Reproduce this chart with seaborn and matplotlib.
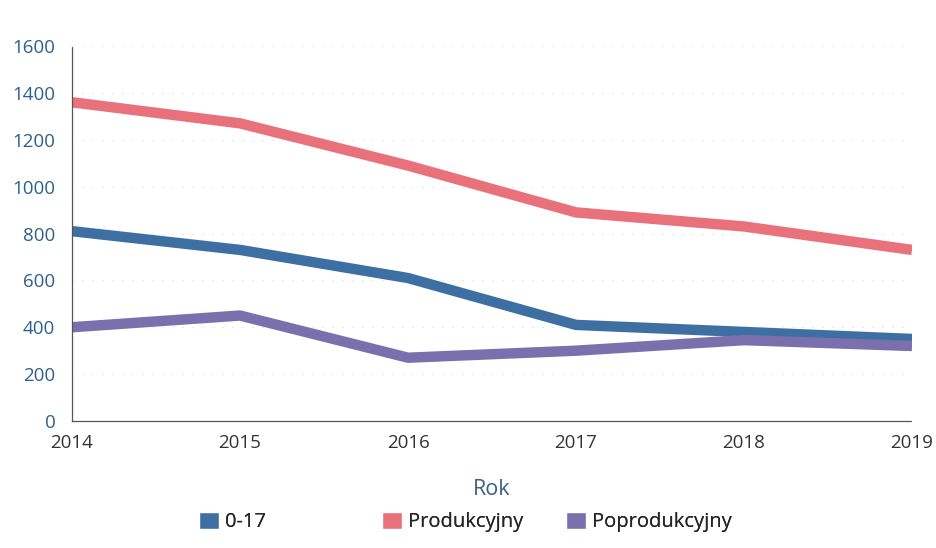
import matplotlib
matplotlib.use("Agg")
import matplotlib.pyplot as plt
import seaborn as sns
import pandas as pd
from matplotlib.patches import Patch

years = [2014, 2015, 2016, 2017, 2018, 2019]
kids = [810, 730, 610, 410, 380, 350]
productive = [1360, 1270, 1090, 890, 830, 730]
post = [400, 450, 270, 300, 345, 320]
series_names = ["0-17", "Produkcyjny", "Poprodukcyjny"]
colors = ["#3e6fa3", "#e8717b", "#7a70ad"]

rows = []
for name, vals in zip(series_names, [kids, productive, post]):
    for y, v in zip(years, vals):
        rows.append({"Rok": y, "Wartość": v, "Grupa": name})
df = pd.DataFrame(rows)

sns.set_theme(style="white")
plt.rcParams['font.family'] = ['Open Sans', 'DejaVu Sans']

fig = plt.figure(figsize=(9.36, 5.48), dpi=100)
ax = fig.add_axes([72/936, 1 - 421/548, 840/936, 375/548])

sns.lineplot(data=df, x="Rok", y="Wartość", hue="Grupa", palette=colors,
             linewidth=7.5, ax=ax, legend=False, solid_capstyle="butt")

ax.set_xlim(2014, 2019)
ax.set_ylim(0, 1600)
ax.set_yticks(range(0, 1601, 200))
ax.set_xticks(years)
ax.tick_params(axis="y", labelsize=13.5, labelcolor="#2f5f8a", length=0, pad=12)
ax.tick_params(axis="x", labelsize=13.5, labelcolor="#333333", length=0, pad=9)
ax.set_ylabel("")
ax.set_xlabel("Rok", fontsize=15.5, color="#3f5f80", labelpad=20)

ax.grid(axis="y", linestyle=(0, (1, 8)), color="#d8d8d8", linewidth=0.8)
for s in ["top", "right"]:
    ax.spines[s].set_visible(False)
for s in ["left", "bottom"]:
    ax.spines[s].set_linestyle((0, (1, 1)))
    ax.spines[s].set_color("#555555")
    ax.spines[s].set_linewidth(0.9)

x_starts = [199, 382, 566]
for c, n, xs in zip(colors, series_names, x_starts):
    leg = fig.legend(handles=[Patch(facecolor=c, label=n)], loc="center left",
                     bbox_to_anchor=(xs/936, 1 - 522/548), frameon=False,
                     fontsize=14.5, handlelength=1.0, handleheight=0.9,
                     handletextpad=0.3, borderaxespad=0, borderpad=0)
    fig.add_artist(leg)

fig.savefig("out.png", dpi=100)
